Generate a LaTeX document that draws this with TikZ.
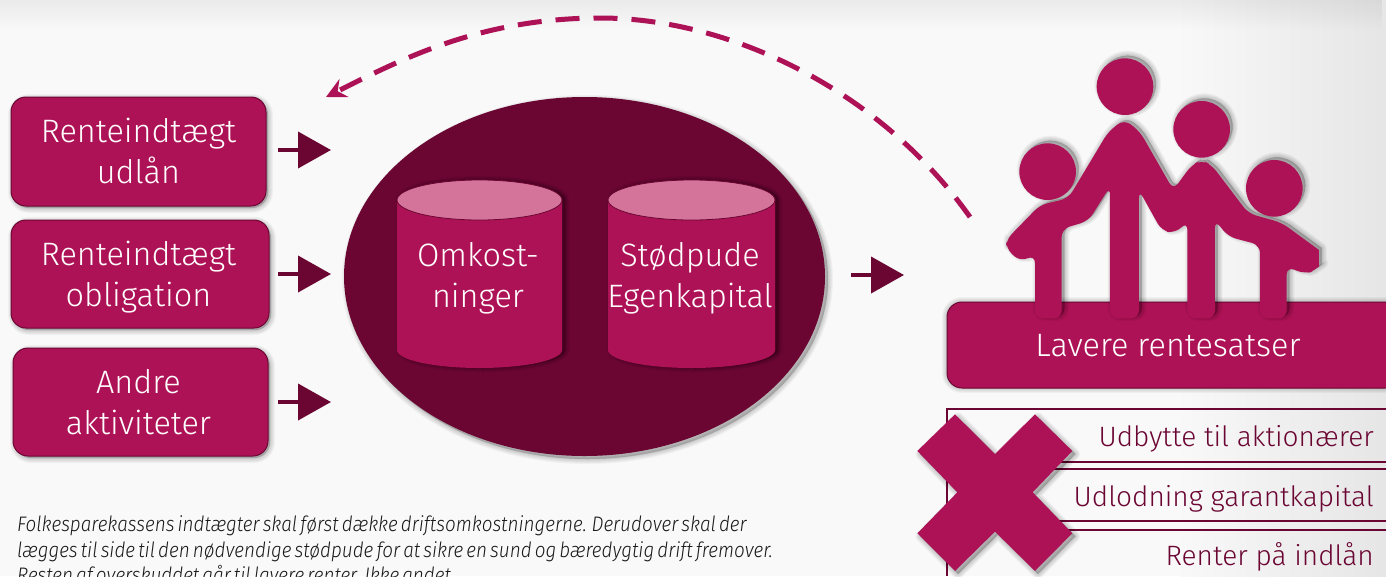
\documentclass[tikz,border=0pt]{standalone}
\usepackage{fontspec}
\setmainfont{Fira Sans}[UprightFont=* Light,ItalicFont=* Light Italic]
\newfontfamily\notefont{Fira Sans}[UprightFont=* Light,ItalicFont=* Light Italic,FakeStretch=0.9,WordSpace=0.6]
\usetikzlibrary{arrows.meta,shapes.geometric,fadings}
\definecolor{rasp}{HTML}{AE1256}
\definecolor{wine}{HTML}{6B0633}
\definecolor{rose}{HTML}{D5749B}
\newcommand{\softshadow}[2][3]{%
  \foreach \w in {10,8,6,4,2,.5}
    \draw[black,draw opacity=.035,fill=black,fill opacity=.035,line width=\w pt,line join=round,shift={(#1,#1)}] #2;}
\tikzset{
  x=1pt,y=-1pt,
  lbl/.style={text=white,font=\fontsize{32.4}{41}\selectfont,align=center,inner sep=0pt},
  boxlabel/.style={lbl,minimum width=200pt},
  panel/.style={fill=rasp,draw=wine,line width=1pt,rounded corners=15pt},
  flow/.style={wine,line width=4pt,-{Triangle[length=33pt,width=36pt]}},
  back/.style={rasp,line width=5pt,dash pattern=on 24pt off 14pt,-{Stealth[length=20pt,width=20pt,inset=7pt]}},
  rowline/.style={wine,line width=1.2pt},
  rowtext/.style={text=wine,font=\fontsize{28}{34}\selectfont,anchor=base east,inner sep=0pt},
  note/.style={text=black!90,font=\notefont\itshape\fontsize{21}{26}\selectfont,anchor=base west,inner sep=0pt},
}
\begin{document}
\begin{tikzpicture}
\clip (0,0) rectangle (1386,576);
% background
\fill[white!97.5!black] (0,0) rectangle (1180,576);
\shade[left color=white!97.5!black,right color=white!90!black] (1180,0) rectangle (1386,576);
\fill[black,opacity=.06,path fading=south] (0,0) rectangle (1386,30);
% left boxes
\softshadow[2]{(11,97) [rounded corners=16pt] -- (266,97) -- (266,206) -- (11,206) -- cycle}
\softshadow[2]{(11,220) [rounded corners=16pt] -- (269,220) -- (269,328) -- (11,328) -- cycle}
\softshadow[2]{(13,348) [rounded corners=16pt] -- (268,348) -- (268,456) -- (13,456) -- cycle}
\draw[panel] (11,97) rectangle (266,206);
\draw[panel] (11,220) rectangle (269,328);
\draw[panel] (13,348) rectangle (268,456);
\node[boxlabel] (renteudlaan) at (138.5,150.5) {Renteindtægt\\udlån};
\node[boxlabel] (renteoblig) at (138.5,277) {Renteindtægt\\obligation};
\node[boxlabel] (andre) at (138.5,402) {Andre\\aktiviteter};
% flow arrows
\coordinate (a1s) at (278,150); \coordinate (a1e) at (331,150);
\coordinate (a2s) at (278,274); \coordinate (a2e) at (331,274);
\coordinate (a3s) at (278,402); \coordinate (a3e) at (331,402);
\coordinate (a4s) at (851,275); \coordinate (a4e) at (904,275);
\draw[flow] (a1s) -- (a1e);
\draw[flow] (a2s) -- (a2e);
\draw[flow] (a3s) -- (a3e);
\draw[flow] (a4s) -- (a4e);
% big ellipse
\softshadow[3]{(584.5,276.5) ellipse [x radius=240.5,y radius=179.5]}
\fill[wine] (584.5,276.5) ellipse [x radius=240.5,y radius=179.5];
% cylinders
\foreach \l/\r in {397/562,608/775}{
  \pgfmathsetmacro{\c}{(\l+\r)/2}
  \pgfmathsetmacro{\rx}{(\r-\l)/2}
  \foreach \w in {8,6,4,2}
    \draw[black,draw opacity=.06,line width=\w pt,fill=black,fill opacity=.06,shift={(3,0)}]
      (\l,200) -- (\l,350) arc[start angle=180,end angle=0,x radius=\rx,y radius=18] -- (\r,200) arc[start angle=0,end angle=-180,x radius=\rx,y radius=20] -- cycle;
  \fill[rasp] (\l,200) -- (\l,350) arc[start angle=180,end angle=0,x radius=\rx,y radius=18] -- (\r,200) -- cycle;
  \draw[wine,line width=.8pt,fill=rose] (\c,200) ellipse[x radius=\rx,y radius=20];
}
\node[lbl] (omk) at (478,278) {Omkost-\\ninger};
\node[lbl] (stod) at (690,278.5) {Stødpude\\Egenkapital};
% dashed return
\coordinate (bs) at (970,217); \coordinate (be) at (326,97);
\draw[back] (bs) .. controls (880,90) and (730,18) .. (600,18) .. controls (480,18) and (400,60) .. (be);
% result panel
\softshadow[0]{(947,302) [rounded corners=15pt] -- (1400,302) -- (1400,388) -- (947,388) -- cycle}
\draw[panel] (947,302) rectangle (1400,388);
\node[lbl] (lavere) at (1168,346) {Lavere rentesatser};
% family
\begin{scope}[shift={(940,40)},x=.3333pt,y=-.3333pt]
\def\famhead{(555,140) circle[radius=85] (785,268) circle[radius=85] (323,395) circle[radius=85] (1003,445) circle[radius=85]}
\def\fambody{(198,625) [rounded corners=8pt] -- (240,665) -- (285,645) -- (285,835) -- (365,835) -- (365,567) -- (445,543) -- (510,440) -- (510,835) -- (597,835) -- (597,450) -- (665,572) -- (705,580) -- (742,545) -- (742,835) -- (825,835) -- (825,540) -- (865,590) -- (960,615) -- (960,835) -- (1040,835) -- (1040,680) -- (1095,702) -- (1125,692) [sharp corners] -- (1137,680) -- (1137,630) [rounded corners=8pt] -- (1025,548) -- (925,520) -- (815,375) -- (785,360) -- (755,375) -- (700,450) -- (600,275) -- (553,238) -- (505,275) -- (385,475) -- (300,495) -- (198,600) -- cycle}
\foreach \w in {10,8,6,4,2,.5}{
  \draw[black,draw opacity=.04,fill=black,fill opacity=.04,line width=\w pt,line join=round,shift={(8,-8)}] \famhead;
  \draw[black,draw opacity=.04,fill=black,fill opacity=.04,line width=\w pt,line join=round,shift={(8,-6)}] \fambody;
}
\fill[rasp] \famhead;
\fill[rasp] \fambody;
\end{scope}
% table rows
\draw[rowline] (1386,409) -- (947,409) -- (947,576);
\draw[rowline] (947,462) -- (1386,462);
\draw[rowline] (947,469) -- (1386,469);
\draw[rowline] (947,521) -- (1386,521);
\draw[rowline] (947,530) -- (1386,530);
\node[rowtext] (r1) at (1374,446) {Udbytte til aktionærer};
\node[rowtext] (r2) at (1374,506) {Udlodning garantkapital};
\node[rowtext] (r3) at (1374,565) {Renter på indlån};
% X mark
\begin{scope}[shift={(900,380)},x=.3333pt,y=-.3333pt]
\def\xmark{(165,103) -- (285,222) -- (405,103) -- (517,213) -- (398,337) -- (517,460) -- (405,573) -- (285,455) -- (165,573) -- (52,460) -- (172,337) -- (52,213) -- cycle}
\foreach \w in {10,8,6,4,2,.5}
  \draw[black,draw opacity=.04,fill=black,fill opacity=.04,line width=\w pt,line join=round,shift={(9,9)}] \xmark;
\fill[rasp] \xmark;
\end{scope}
% note
\node[note] (n1) at (17,531) {Folkesparekassens indtægter skal først dække driftsomkostningerne. Derudover skal der};
\node[note] (n2) at (17,557) {lægges til side til den nødvendige stødpude for at sikre en sund og bæredygtig drift fremover.};
\node[note] (n3) at (17,582) {Resten af overskuddet går til lavere renter. Ikke andet.};
\end{tikzpicture}
\end{document}
